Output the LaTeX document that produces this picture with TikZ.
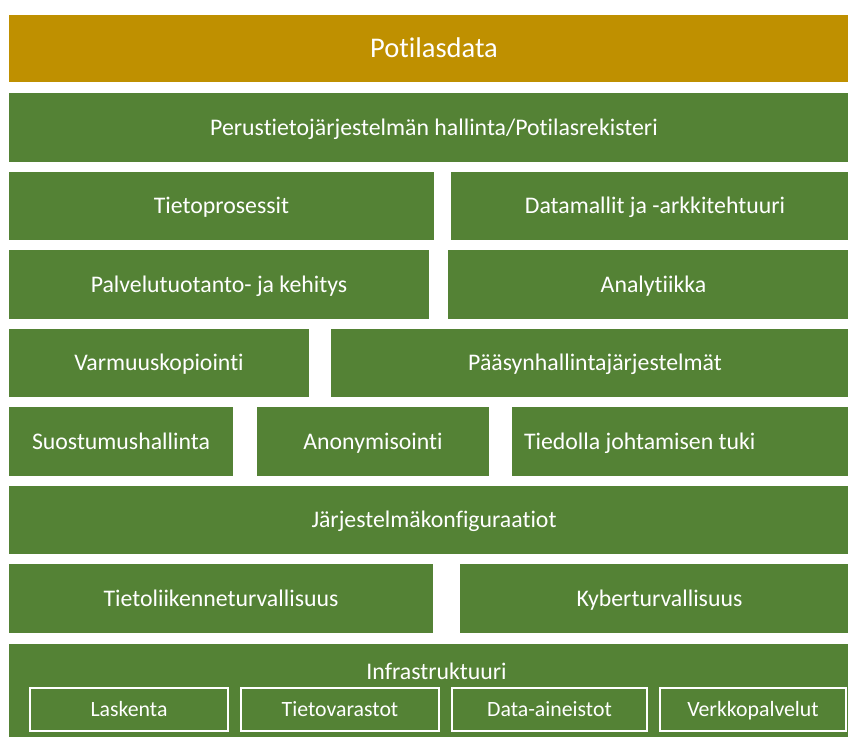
\documentclass[tikz,border=0pt]{standalone}
\usepackage{fontspec}
\setmainfont{Carlito}[Ligatures={NoCommon,NoRare,NoContextual}]
\definecolor{goldbar}{HTML}{BF9000}
\definecolor{leaf}{HTML}{548235}
\begin{document}
\begin{tikzpicture}[x=1pt,y=-1pt,
  block/.style={fill=leaf, text=white, inner sep=0pt,
    font=\fontsize{23.8}{28}\selectfont, text height=15pt, text depth=0pt},
  topbar/.style={block, fill=goldbar, font=\fontsize{28.5}{34}\selectfont, text height=18pt},
  subbox/.style={draw=white, line width=1.3pt, fill=leaf, text=white, inner sep=0pt,
    font=\fontsize{21.8}{26}\selectfont, text height=13.7pt, text depth=0pt,
    minimum height=43pt},
  plain/.style={text=white, inner sep=0pt,
    font=\fontsize{23.8}{28}\selectfont, text height=15pt, text depth=0pt}]
\useasboundingbox (0,0) rectangle (848,736);
\clip (0,0) rectangle (848,736);

% top layer
\node[topbar, minimum width=850pt, minimum height=67pt] (potilas) at (434,48.5) {Potilasdata};
\node[block, minimum width=850pt, minimum height=69pt] (perus) at (434,127.5) {Perustietojärjestelmän hallinta/Potilasrekisteri};

% row: processes and models
\node[block, minimum width=425pt, minimum height=68pt] (tieto) at (221.5,206) {Tietoprosessit};
\node[block, minimum width=408pt, minimum height=68pt] (malli) at (655,206) {Datamallit ja -arkkitehtuuri};

% row: services and analytics
\node[block, minimum width=420pt, minimum height=69pt] (palvelu) at (219,284.5) {Palvelutuotanto- ja kehitys};
\node[block, minimum width=411pt, minimum height=69pt] (analyt) at (653.5,284.5) {Analytiikka};

% row: backup and access control
\node[block, minimum width=300pt, minimum height=68pt] (varmuus) at (159,363) {Varmuuskopiointi};
\node[block, minimum width=528pt, minimum height=68pt] (paasy) at (595,363) {Pääsynhallintajärjestelmät};

% row: consent, anonymisation, knowledge management
\node[block, minimum width=224pt, minimum height=69pt] (suostumus) at (121,441.5) {Suostumushallinta};
\node[block, minimum width=232pt, minimum height=69pt] (anonym) at (373,441.5) {Anonymisointi};
\node[block, minimum width=347pt, minimum height=69pt] (tiedolla) at (685.5,441.5) {};
\node[plain, anchor=west] (tiedollalabel) at ([xshift=12pt]tiedolla.west) {Tiedolla johtamisen tuki};

% configuration
\node[block, minimum width=850pt, minimum height=68pt] (konfig) at (434,520) {Järjestelmäkonfiguraatiot};

% security
\node[block, minimum width=424pt, minimum height=69pt] (tietoliik) at (221,598.5) {Tietoliikenneturvallisuus};
\node[block, minimum width=399pt, minimum height=69pt] (kyber) at (659.5,598.5) {Kyberturvallisuus};

% infrastructure with its components
\node[block, minimum width=854pt, minimum height=116pt] (infra) at (436,702) {};
\node[plain] (infralabel) at (436.5,672) {Infrastruktuuri};
\node[subbox, minimum width=198pt] (laskenta) at (129,709.5) {Laskenta};
\node[subbox, minimum width=198pt] (varasto) at (340,709.5) {Tietovarastot};
\node[subbox, minimum width=195pt] (aineisto) at (549.5,709.5) {Data-aineistot};
\node[subbox, minimum width=186pt] (verkko) at (753,709.5) {Verkkopalvelut};
\end{tikzpicture}
\end{document}
